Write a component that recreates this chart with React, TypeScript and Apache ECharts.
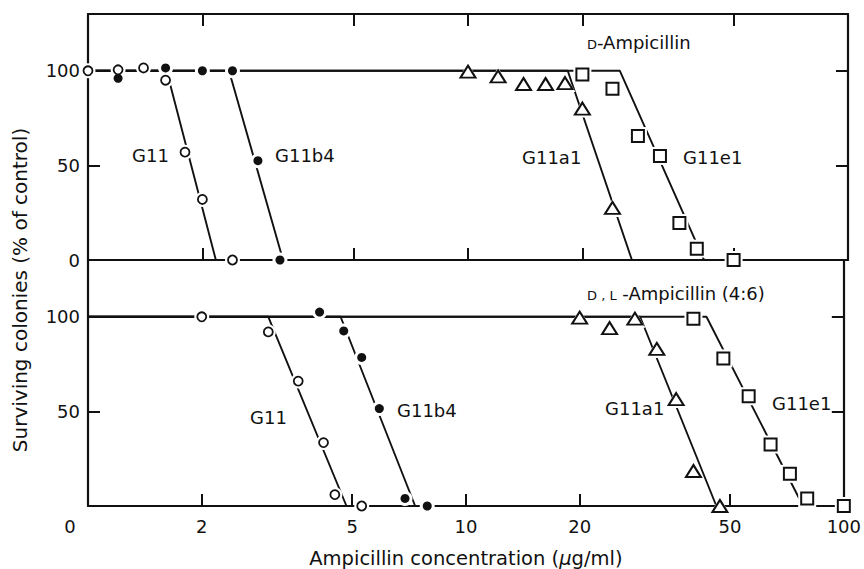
import React, { useEffect, useRef } from 'react';
import * as echarts from 'echarts';

const FONT = 'DejaVu Sans';
const INK = '#111';

const xTickConc = [2, 5, 10, 20, 50];
const xLabelConc = [1, 2, 5, 10, 20, 50, 100];
const yLabelsTop = [0, 50, 100];
const yLabelsBottom = [50, 100];
const yTicksRight = [50, 100];

// Upper panel: D-Ampicillin
const dG11Conc = [1, 1.2, 1.4, 1.6, 1.8, 2.0, 2.4];
const dG11Surv = [100, 100.5, 101.5, 95, 57, 32, 0];
const dG11b4Conc = [1.2, 1.6, 2.0, 2.4, 2.8, 3.2];
const dG11b4Surv = [96, 101.5, 100, 100, 52.5, 0];
const dG11a1Conc = [10, 12, 14, 16, 18, 20, 24];
const dG11a1Surv = [99.5, 97, 93, 93, 93.5, 80, 27.5];
const dG11e1Conc = [20, 24, 28, 32, 36, 40, 50];
const dG11e1Surv = [98, 90.5, 65.5, 55, 19.5, 6, 0];
// fitted lines: start of plateau, end of plateau, zero crossing
const dG11Line = [1, 1.61, 2.17];
const dG11b4Line = [1, 2.35, 3.26];
const dG11a1Line = [1, 18.3, 27];
const dG11e1Line = [1, 25.1, 41.8];

// Lower panel: D,L-Ampicillin (4:6)
const dlG11Conc = [2, 3, 3.6, 4.2, 4.5, 5.3];
const dlG11Surv = [100, 92, 66, 33.5, 6, 0];
const dlG11b4Conc = [4.1, 4.75, 5.3, 5.9, 6.9, 7.9];
const dlG11b4Surv = [102.5, 92.5, 78.5, 51.5, 4, 0];
const dlG11a1Conc = [20, 24, 28, 32, 36, 40, 47];
const dlG11a1Surv = [99.5, 94, 99, 83, 56.5, 18.5, 0];
const dlG11e1Conc = [40, 48, 56, 64, 72, 80, 100];
const dlG11e1Surv = [99, 78, 58, 32.5, 17, 4, 0];
const dlG11Line = [1, 3.0, 4.83];
const dlG11b4Line = [1, 4.66, 7.34];
const dlG11a1Line = [1, 28.9, 46];
const dlG11e1Line = [1, 43.3, 78];

const lineSurv = [100, 100, 0];

type Mark = { symbol: string; size: number | number[]; fill: string; border: number };
const OPEN: Mark = { symbol: 'circle', size: 9, fill: '#fff', border: 1.8 };
const FILLED: Mark = { symbol: 'circle', size: 9, fill: INK, border: 0 };
const TRI: Mark = { symbol: 'triangle', size: [15, 12], fill: '#fff', border: 2 };
const SQ: Mark = { symbol: 'rect', size: 12, fill: '#fff', border: 2 };

const zip = (a: number[], b: number[]) => a.map((v, i) => [v, b[i]]);

function pointSeries(grid: number, conc: number[], surv: number[], m: Mark) {
  const data = zip(conc, surv);
  const halo = Array.isArray(m.size) ? m.size.map((s) => s + 6) : (m.size as number) + 6;
  return [
    {
      type: 'scatter', xAxisIndex: grid, yAxisIndex: grid * 2, data, symbol: m.symbol,
      symbolSize: halo, itemStyle: { color: '#fff', opacity: 1 }, z: 3, silent: true,
    },
    {
      type: 'scatter', xAxisIndex: grid, yAxisIndex: grid * 2, data, symbol: m.symbol,
      symbolSize: m.size,
      itemStyle: { color: m.fill, borderColor: INK, borderWidth: m.border, opacity: 1 }, z: 4, silent: true,
    },
  ];
}

function lineSeries(grid: number, conc: number[]) {
  return {
    type: 'line', xAxisIndex: grid, yAxisIndex: grid * 2, data: zip(conc, lineSurv),
    symbol: 'none', lineStyle: { color: INK, width: 1.9 }, z: 2, silent: true,
  };
}

const axisLine = { show: true, onZero: false, lineStyle: { color: INK, width: 2.2 } };
const tickStyle = { color: INK, width: 2 };

function xVis(grid: number, position: string, labels: boolean) {
  return {
    type: 'value', gridIndex: grid, position, min: 0, max: 2,
    axisLine,
    axisTick: { show: true, inside: true, length: 12, customValues: xTickConc.map(Math.log10), lineStyle: tickStyle },
    axisLabel: labels
      ? {
          show: true, customValues: xLabelConc.map(Math.log10), margin: 11,
          color: INK, fontFamily: FONT, fontSize: 18,
          formatter: (v: number) => {
            const c = Math.round(Math.pow(10, v));
            return c === 1 ? '{z|0}' : String(c);
          },
          rich: { z: { padding: [0, 36, 0, 0], fontFamily: FONT, fontSize: 18, color: INK } },
        }
      : { show: false },
    splitLine: { show: false },
    ...(labels
      ? {
          name: 'Ampicillin concentration ({i|μ}g/ml)', nameLocation: 'middle', nameGap: 42,
          nameTextStyle: {
            color: INK, fontFamily: FONT, fontSize: 19.5,
            rich: { i: { fontStyle: 'italic', fontFamily: FONT, fontSize: 19.5, color: INK } },
          },
        }
      : {}),
  };
}

function yAxis(grid: number, position: string, labels: number[] | null, ticks: number[]) {
  return {
    type: 'value', gridIndex: grid, position, min: 0, max: 130,
    axisLine,
    axisTick: { show: true, inside: true, length: 12, customValues: ticks, lineStyle: tickStyle },
    axisLabel: labels
      ? { show: true, customValues: labels, margin: 8, color: INK, fontFamily: FONT, fontSize: 18 }
      : { show: false },
    splitLine: { show: false },
  };
}

function label(text: string, x: number, y: number) {
  return {
    type: 'text', x, y, silent: true,
    style: { text, fill: INK, font: `18px "${FONT}"`, align: 'left', verticalAlign: 'middle', textAlign: 'left', textVerticalAlign: 'middle' },
  };
}

function richLabel(text: string, x: number, y: number) {
  return {
    type: 'text', x, y, silent: true,
    style: {
      text, fill: INK, font: `18px "${FONT}"`, align: 'left', verticalAlign: 'middle',
      textAlign: 'left', textVerticalAlign: 'middle',
      rich: {
        sc: { fontSize: 13, fontFamily: FONT, fill: INK, color: INK, verticalAlign: 'bottom', lineHeight: 18, padding: [4, 0, 0, 0] },
        n: { fontSize: 18, fontFamily: FONT, fill: INK, color: INK, lineHeight: 18 },
      },
    },
  };
}

export default function App() {
  const ref = useRef<HTMLDivElement>(null);
  useEffect(() => {
    if (!ref.current) return;
    const chart = echarts.init(ref.current, null, { renderer: 'svg' });
    const option: any = {
      animation: false,
      backgroundColor: '#fff',
      grid: [
        { left: 88, width: 760, top: 14, height: 246 },
        { left: 88, width: 760, top: 260, height: 248 },
      ],
      xAxis: [
        { type: 'log', logBase: 10, gridIndex: 0, min: 1, max: 100, show: false },
        { type: 'log', logBase: 10, gridIndex: 1, min: 1, max: 100, show: false },
        xVis(0, 'bottom', false),
        xVis(0, 'top', false),
        xVis(1, 'bottom', true),
      ],
      yAxis: [
        yAxis(0, 'left', yLabelsTop, yLabelsTop),
        yAxis(0, 'right', null, yTicksRight),
        yAxis(1, 'left', yLabelsBottom, yLabelsBottom),
        yAxis(1, 'right', null, yTicksRight),
      ],
      series: [
        lineSeries(0, dG11Line),
        lineSeries(0, dG11b4Line),
        lineSeries(0, dG11a1Line),
        lineSeries(0, dG11e1Line),
        lineSeries(1, dlG11Line),
        lineSeries(1, dlG11b4Line),
        lineSeries(1, dlG11a1Line),
        lineSeries(1, dlG11e1Line),
        ...pointSeries(0, dG11Conc, dG11Surv, OPEN),
        ...pointSeries(0, dG11b4Conc, dG11b4Surv, FILLED),
        ...pointSeries(0, dG11a1Conc, dG11a1Surv, TRI),
        ...pointSeries(0, dG11e1Conc, dG11e1Surv, SQ),
        ...pointSeries(1, dlG11Conc, dlG11Surv, OPEN),
        ...pointSeries(1, dlG11b4Conc, dlG11b4Surv, FILLED),
        ...pointSeries(1, dlG11a1Conc, dlG11a1Surv, TRI),
        ...pointSeries(1, dlG11e1Conc, dlG11e1Surv, SQ),
      ],
      graphic: [
        label('G11', 132, 155),
        label('G11b4', 275, 155),
        label('G11a1', 522, 157),
        label('G11e1', 683, 157),
        label('G11', 250, 417),
        label('G11b4', 397, 410),
        label('G11a1', 605, 408),
        label('G11e1', 772, 403),
        richLabel('{sc|D}{n|-Ampicillin}', 587, 42),
        richLabel('{sc|D , L}{n| -Ampicillin (4:6)}', 587, 293),
        {
          type: 'text', x: 20, y: 290, rotation: Math.PI / 2, silent: true,
          style: {
            text: 'Surviving colonies (% of control)', fill: INK, font: `20px "${FONT}"`,
            align: 'center', verticalAlign: 'middle', textAlign: 'center', textVerticalAlign: 'middle',
          },
        },
      ],
    };
    chart.setOption(option);
    return () => chart.dispose();
  }, []);
  return (
    <div
      ref={ref}
      style={{ position: 'fixed', left: 0, top: 0, width: 864, height: 569, background: '#fff' }}
    />
  );
}
